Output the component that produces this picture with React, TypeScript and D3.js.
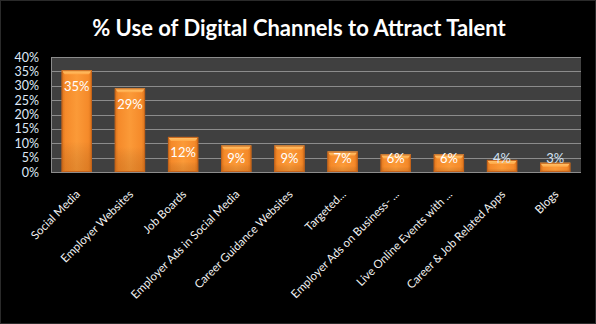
import React from "react";
import * as d3 from "d3";

const title = "% Use of Digital Channels to Attract Talent";
const categories = [
  "Social Media",
  "Employer Websites",
  "Job Boards",
  "Employer Ads in Social Media",
  "Career Guidance Websites",
  "Targeted...",
  "Employer Ads on Business- ...",
  "Live Online Events with ...",
  "Career & Job Related Apps",
  "Blogs",
];
const values = [0.354, 0.291, 0.122, 0.092, 0.092, 0.071, 0.061, 0.061, 0.042, 0.032];
const yTicks = [0, 0.05, 0.1, 0.15, 0.2, 0.25, 0.3, 0.35, 0.4];

const W = 596;
const H = 324;
const plot = { left: 51, right: 581, top: 57, bottom: 172 };
const FONT = "Lato, 'Open Sans', sans-serif";

export default function App() {
  const x = d3
    .scaleBand<string>()
    .domain(categories)
    .range([plot.left, plot.right])
    .paddingInner(0.43)
    .paddingOuter(0.2);
  const y = d3.scaleLinear().domain([0, 0.4]).range([plot.bottom, plot.top]);
  const fmtTick = d3.format(".0%");
  const fmtLabel = d3.format(".0%");
  const bw = x.bandwidth();

  return (
    <svg
      width={W}
      height={H}
      style={{ position: "absolute", left: 0, top: 0, display: "block" }}
      fontFamily={FONT}
    >
      <defs>
        <linearGradient id="barH" x1="0" x2="1" y1="0" y2="0">
          <stop offset="0" stopColor="#d9741c" />
          <stop offset="0.12" stopColor="#f58a2a" />
          <stop offset="0.5" stopColor="#fb9a38" />
          <stop offset="0.88" stopColor="#f58a2a" />
          <stop offset="1" stopColor="#d9741c" />
        </linearGradient>
        <linearGradient id="barV" x1="0" x2="0" y1="0" y2="1">
          <stop offset="0" stopColor="#ffffff" stopOpacity="0" />
          <stop offset="0.7" stopColor="#000000" stopOpacity="0" />
          <stop offset="1" stopColor="#7a3a00" stopOpacity="0.18" />
        </linearGradient>
        <linearGradient id="bevel" x1="0" x2="0" y1="0" y2="1">
          <stop offset="0" stopColor="#ffc870" />
          <stop offset="1" stopColor="#ffa848" />
        </linearGradient>
      </defs>
      <rect x={0} y={0} width={W} height={H} fill="#000" />
      <rect x={0.5} y={0.5} width={W - 1} height={H - 1} fill="none" stroke="#2a2a2a" />
      <text
        x={W / 2 + 1}
        y={36}
        textAnchor="middle"
        fill="#ffffff"
        fontSize={22}
        fontWeight="bold"
      >
        {title}
      </text>

      <rect
        x={plot.left}
        y={plot.top}
        width={plot.right - plot.left}
        height={plot.bottom - plot.top}
        fill="#404040"
      />
      {yTicks.map((t) => (
        <g key={t}>
          <line
            x1={plot.left}
            x2={plot.right}
            y1={Math.round(y(t)) + 0.5}
            y2={Math.round(y(t)) + 0.5}
            stroke="#8c8c8c"
            strokeWidth={1}
          />
          <text
            x={39}
            y={y(t) + 4.5}
            textAnchor="end"
            fill="#dfe9f7"
            fontSize={12.5}
          >
            {fmtTick(t)}
          </text>
        </g>
      ))}
      <line
        x1={plot.left + 0.5}
        x2={plot.left + 0.5}
        y1={plot.top}
        y2={plot.bottom}
        stroke="#8c8c8c"
      />

      {categories.map((c, i) => {
        const v = values[i];
        const bx = x(c)!;
        const top = y(v);
        const h = plot.bottom - top;
        const bev = Math.min(4, h / 2);
        const labelY = Math.min(top + 16, plot.bottom - 14);
        const outside = labelY < top + 3;
        return (
          <g key={c}>
            <rect x={bx} y={top} width={bw} height={h} fill="url(#barH)" />
            <rect x={bx} y={top} width={bw} height={h} fill="url(#barV)" />
            <polygon
              points={`${bx},${top} ${bx + bw},${top} ${bx + bw - 3},${top + bev} ${bx + 3},${top + bev}`}
              fill="url(#bevel)"
            />
            <rect
              x={bx + 0.5}
              y={top + 0.5}
              width={bw - 1}
              height={h - 1}
              fill="none"
              stroke="#c4621a"
              strokeWidth={1}
            />
            <text
              x={bx + bw / 2}
              y={labelY + 4.5}
              textAnchor="middle"
              fill={outside ? "#d3e3f5" : "#ffffff"}
              fontSize={13}
            >
              {fmtLabel(v)}
            </text>
          </g>
        );
      })}

      <line
        x1={plot.left}
        x2={plot.right}
        y1={plot.bottom + 0.5}
        y2={plot.bottom + 0.5}
        stroke="#8c8c8c"
      />

      {categories.map((c) => {
        const cx = x(c)! + bw / 2 + 4;
        const cy = plot.bottom + 23;
        return (
          <text
            key={"l" + c}
            transform={`translate(${cx},${cy}) rotate(-45)`}
            textAnchor="end"
            fill="#f2f2f2"
            fontSize={11.5}
          >
            {c}
          </text>
        );
      })}
    </svg>
  );
}
